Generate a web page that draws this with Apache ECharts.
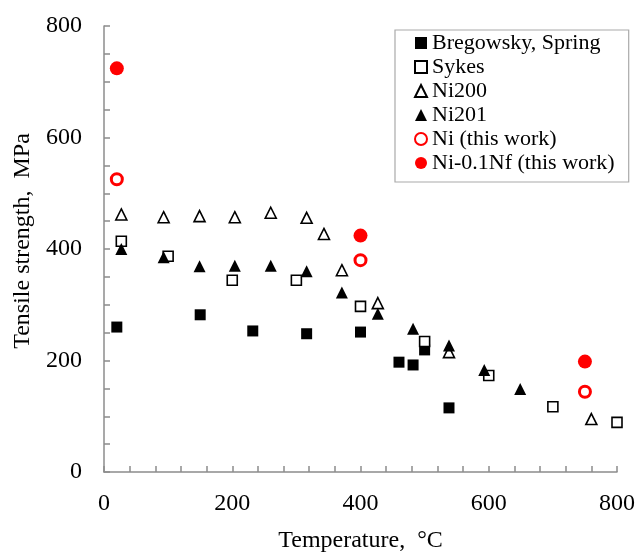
<!DOCTYPE html>
<html><head><meta charset="utf-8">
<script src="https://cdn.jsdelivr.net/npm/echarts@6/dist/echarts.min.js"></script>
<style>html,body{margin:0;padding:0;background:#fff}#c{width:638px;height:552px}</style>
</head><body><div id="c"></div>
<script>
const xTicks = [0, 200, 400, 600, 800];
const yTicks = [0, 200, 400, 600, 800];
const bregowsky = [[20,260],[150,282],[232,253],[316,248],[400,251],[460,197],[482,192],[500,219],[538,115]];
const sykes = [[27,414],[100,387],[200,344],[300,344],[400,297],[500,234],[600,173],[700,117],[800,89]];
const ni200 = [[27,462],[93,457],[149,459],[204,457],[260,465],[316,456],[343,427],[371,362],[427,303],[538,215],[760,95]];
const ni201 = [[27,400],[93,385],[149,369],[204,370],[260,370],[316,360],[371,322],[427,284],[482,257],[538,227],[593,183],[649,149]];
const niThis = [[20,525],[400,380],[750,144]];
const niNf = [[20,724],[400,424],[750,198]];
const names = ['Bregowsky, Spring','Sykes','Ni200','Ni201','Ni (this work)','Ni-0.1Nf (this work)'];

const font = '"Liberation Serif", "Times New Roman", serif';
const axisColor = '#8c8c8c';
const chart = echarts.init(document.getElementById('c'), null, {renderer:'canvas'});
chart.setOption({
  animation: false,
  backgroundColor: '#fff',
  grid: {left: 104, right: 21, top: 26, bottom: 80, containLabel: false, outerBoundsMode: 'none'},
  xAxis: {
    type: 'value', min: xTicks[0], max: xTicks[xTicks.length-1], interval: 200,
    name: 'Temperature,  °C', nameLocation: 'middle', nameGap: 57,
    nameTextStyle: {fontFamily: font, fontSize: 24, color: '#000'},
    axisLine: {lineStyle: {color: axisColor, width: 1.5}},
    axisTick: {inside: true, length: 6, lineStyle: {color: axisColor, width: 1.5}},
    minorTick: {show: true, splitNumber: 5, length: 6, lineStyle: {color: axisColor, width: 1.5}},
    axisLabel: {fontFamily: font, fontSize: 24, color: '#000', margin: 20},
    splitLine: {show: false}
  },
  yAxis: {
    type: 'value', min: yTicks[0], max: yTicks[yTicks.length-1], interval: 200,
    name: 'Tensile strength,  MPa', nameLocation: 'middle', nameGap: 60,
    nameTextStyle: {fontFamily: font, fontSize: 24, color: '#000', padding: [0,0,0,16]},
    axisLine: {show: true, lineStyle: {color: axisColor, width: 1.5}},
    axisTick: {show: true, inside: true, length: 6, lineStyle: {color: axisColor, width: 1.5}},
    minorTick: {show: true, splitNumber: 4, length: 6, lineStyle: {color: axisColor, width: 1.5}},
    axisLabel: {fontFamily: font, fontSize: 24, color: '#000', margin: 22},
    splitLine: {show: false}
  },
  legend: {
    orient: 'vertical', left: 395, top: 30,
    padding: [2, 14, 8, 19], itemGap: 2, itemWidth: 12, itemHeight: 12,
    borderColor: '#aaa', borderWidth: 1.2, backgroundColor: '#fff',
    textStyle: {fontFamily: font, fontSize: 22, color: '#000', lineHeight: 22},
    data: names
  },
  series: [
    {name: names[0], type: 'scatter', data: bregowsky, symbol: 'rect', symbolSize: 11,
     itemStyle: {color: '#000', opacity: 1}},
    {name: names[1], type: 'scatter', data: sykes, symbol: 'rect', symbolSize: 10,
     itemStyle: {color: '#fff', borderColor: '#000', borderWidth: 1.6, opacity: 1}},
    {name: names[2], type: 'scatter', data: ni200, symbol: 'triangle', symbolSize: 11,
     itemStyle: {color: '#fff', borderColor: '#000', borderWidth: 1.6, opacity: 1}},
    {name: names[3], type: 'scatter', data: ni201, symbol: 'triangle', symbolSize: 12,
     itemStyle: {color: '#000', opacity: 1}},
    {name: names[4], type: 'scatter', data: niThis, symbol: 'circle', symbolSize: 11,
     itemStyle: {color: '#fff', borderColor: '#ff0000', borderWidth: 3, opacity: 1}},
    {name: names[5], type: 'scatter', data: niNf, symbol: 'circle', symbolSize: 14,
     itemStyle: {color: '#ff0000', opacity: 1}}
  ]
});
</script></body></html>
